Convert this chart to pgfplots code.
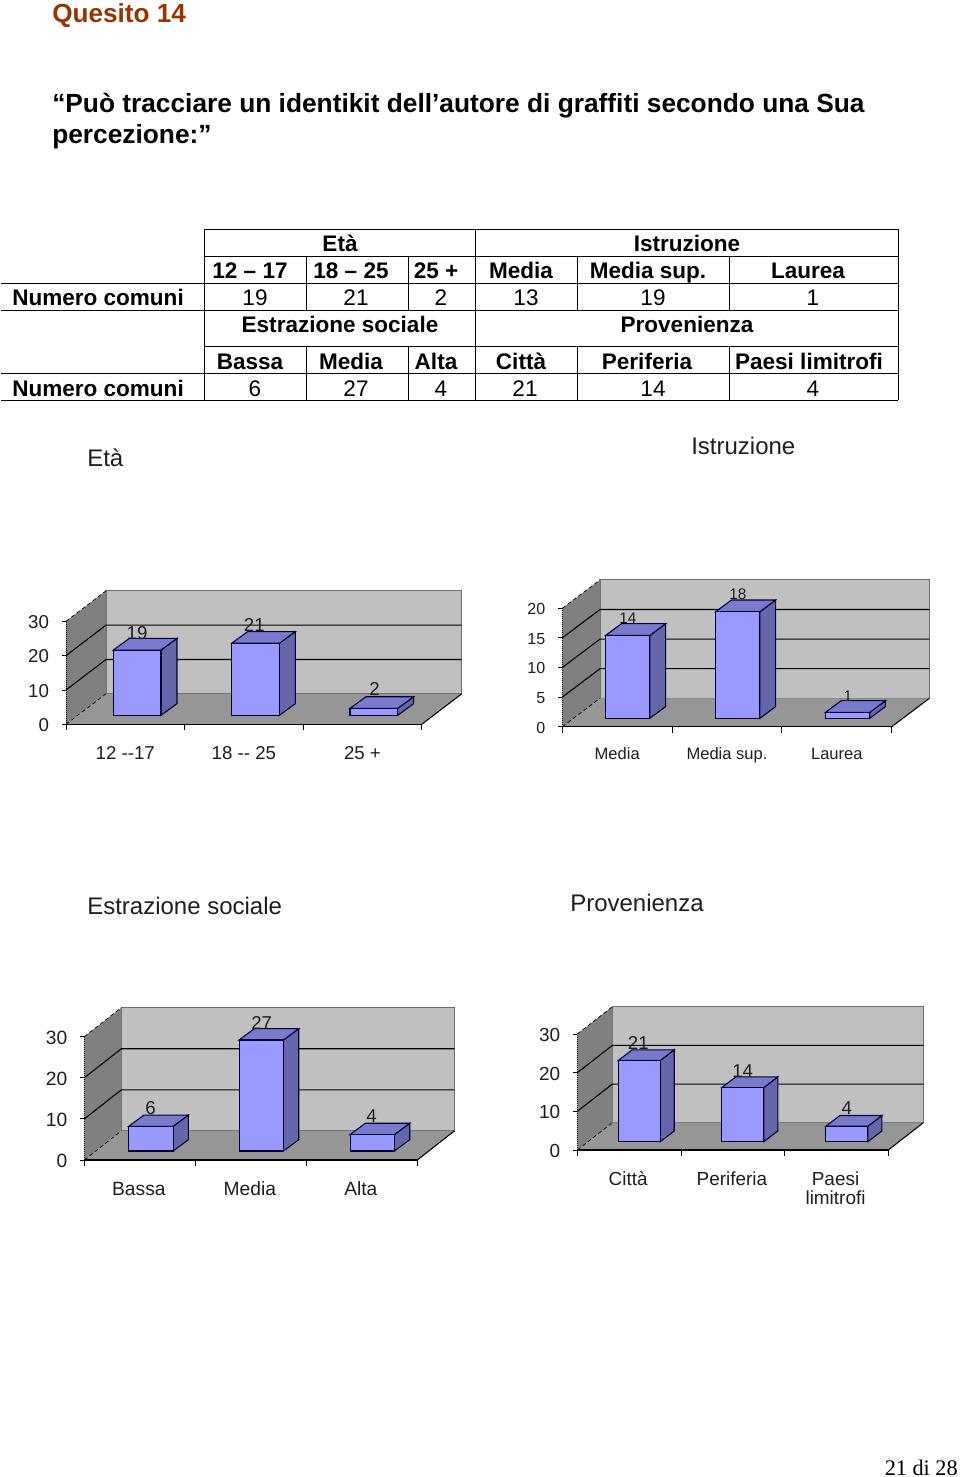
\documentclass[border=0pt]{standalone}
\usepackage{fontspec}
\setmainfont{Liberation Sans}
\newfontfamily\serifpage{Liberation Serif}
\usepackage{pgfplots}
\pgfplotsset{compat=1.18}
\definecolor{wallback}{HTML}{C0C0C0}
\definecolor{wallside}{HTML}{808080}
\definecolor{floorc}{HTML}{969696}
\definecolor{edgec}{HTML}{6E6E6E}
\definecolor{barfront}{HTML}{9999FF}
\definecolor{bartop}{HTML}{7A7ACC}
\definecolor{barside}{HTML}{6666AA}
\definecolor{barline}{HTML}{000033}
\definecolor{titlec}{HTML}{993300}
\definecolor{inkc}{HTML}{1E1E1E}
\newcommand\fs[1]{\fontsize{#1}{#1}\selectfont}
% geometry of the fake depth is set per chart: \dX \dY (walls), \bX \bY \bZ (bars)
\newcommand\tdframe{%
 \pgfmathsetmacro\tdxr{3+\dX}\pgfmathsetmacro\tdyt{\yM+\dY}%
 \addplot[fill=wallback,draw=edgec,line width=.8pt] coordinates {(\dX,\dY)(\tdxr,\dY)(\tdxr,\tdyt)(\dX,\tdyt)} -- cycle;%
 \addplot[fill=wallside,draw=none] coordinates {(0,0)(\dX,\dY)(\dX,\tdyt)(0,\yM)} -- cycle;%
 \addplot[fill=floorc,draw=none] coordinates {(0,0)(3,0)(\tdxr,\dY)(\dX,\dY)} -- cycle;%
 \addplot[black,line width=.5pt,densely dashed] coordinates {(0,0)(\dX,\dY)};%
 \addplot[black,line width=.5pt,densely dashed] coordinates {(0,\yM)(\dX,\tdyt)};%
 \addplot[black,line width=.8pt] coordinates {(3,0)(\tdxr,\dY)};%
}
\newcommand\tdgrid[1]{%
 \pgfmathsetmacro\tdxr{3+\dX}\pgfmathsetmacro\tdyg{#1+\dY}%
 \addplot[black,line width=.8pt] coordinates {(0,#1)(\dX,\tdyg)(\tdxr,\tdyg)};%
}
% \tdbar{left}{width}{value}
\newcommand\tdbar[3]{%
 \pgfmathsetmacro\tdr{#1+#2}\pgfmathsetmacro\tdt{\bZ+#3}%
 \pgfmathsetmacro\tdlb{#1+\bX}\pgfmathsetmacro\tdrb{#1+#2+\bX}%
 \pgfmathsetmacro\tdtb{\bZ+#3+\bY}\pgfmathsetmacro\tdzb{\bZ+\bY}%
 \addplot[fill=barside,draw=barline,line width=.8pt] coordinates {(\tdr,\bZ)(\tdrb,\tdzb)(\tdrb,\tdtb)(\tdr,\tdt)} -- cycle;%
 \addplot[fill=bartop,draw=barline,line width=.8pt] coordinates {(#1,\tdt)(\tdr,\tdt)(\tdrb,\tdtb)(\tdlb,\tdtb)} -- cycle;%
 \addplot[fill=barfront,draw=barline,line width=.8pt] coordinates {(#1,\bZ)(\tdr,\bZ)(\tdr,\tdt)(#1,\tdt)} -- cycle;%
}
\pgfplotsset{
  tdaxis/.style={
    scale only axis, clip=false, axis on top,
    xmin=0, xmax=3, ymin=0,
    axis lines*=left, x axis line style={-,line width=.8pt,black},
    y axis line style={-,line width=.5pt,black,densely dotted},
    xtick={0,1,2,3}, x tick label as interval,
    tick align=outside, major tick length=3pt,
    tick style={black,line width=.7pt},
    xtick style={/pgfplots/major tick length=4.5pt},
    xtick pos=bottom, ytick pos=left,
    /pgf/number format/assume math mode=true,
    anchor=south west,
    every axis plot/.append style={no markers},
    tick label style={text=inkc},
    xticklabel style={yshift=-9.5pt},
    yticklabel style={xshift=-6.3pt,yshift=-.6pt},
  },
  vallabel/.style={draw=none, nodes near coords, point meta=explicit symbolic,
    every node near coord/.style={anchor=center,inner sep=0pt,text=inkc,font=\fs{#1}}},
}
\begin{document}
\begin{tikzpicture}
\begin{scope}[x=0.75pt,y=-0.75pt]
\path[use as bounding box,fill=white] (0,0) rectangle (960,1477);
% headings
\node[anchor=base west,inner sep=0pt,text=titlec,font=\fs{19.6}\bfseries] at (52,23) {Quesito 14};
\node[anchor=base west,inner sep=0pt,font=\fs{19.72}\bfseries] at (52,113) {“Può tracciare un identikit dell’autore di graffiti secondo una Sua};
\node[anchor=base west,inner sep=0pt,font=\fs{19.72}\bfseries] at (52,143.5) {percezione:”};
% table rules
\foreach \y in {229.3,256.3,346.3} \draw[line width=.7pt] (204,\y) -- (898,\y);
\foreach \y in {283.3,310,373.3,400} \draw[line width=.7pt] (1,\y) -- (898,\y);
\foreach \x in {204,475,898} \draw[line width=.7pt] (\x,229.3) -- (\x,400);
\foreach \x in {306,408,577,729} {\draw[line width=.7pt] (\x,256.3) -- (\x,310); \draw[line width=.7pt] (\x,346.3) -- (\x,400);}
% table text
\tikzset{tb/.style={anchor=base,inner sep=0pt,font=\fs{16.9}\bfseries},tn/.style={anchor=base,inner sep=0pt,font=\fs{16.9}}}
\node[tb] at (340,251) {Età}; \node[tb] at (687,251) {Istruzione};
\node[tb] at (250,278) {12 – 17}; \node[tb] at (351,278) {18 – 25}; \node[tb] at (436,278) {25 +};
\node[tb] at (521,278) {Media}; \node[tb] at (648,278) {Media sup.}; \node[tb] at (808,278) {Laurea};
\node[tb,anchor=base west] at (12,305) {Numero comuni};
\node[tn] at (255,305) {19}; \node[tn] at (356,305) {21}; \node[tn] at (441,305) {2};
\node[tn] at (526,305) {13}; \node[tn] at (653,305) {19}; \node[tn] at (813,305) {1};
\node[tb] at (340,332) {Estrazione sociale}; \node[tb] at (687,332) {Provenienza};
\node[tb] at (250,369) {Bassa}; \node[tb] at (351,369) {Media}; \node[tb] at (436,369) {Alta};
\node[tb] at (521,369) {Città}; \node[tb] at (647,369) {Periferia}; \node[tb] at (809,369) {Paesi limitrofi};
\node[tb,anchor=base west] at (12,396) {Numero comuni};
\node[tn] at (255,396) {6}; \node[tn] at (356,396) {27}; \node[tn] at (441,396) {4};
\node[tn] at (525,396) {21}; \node[tn] at (653,396) {14}; \node[tn] at (813,396) {4};
% chart titles and page number
\tikzset{ct/.style={anchor=base west,inner sep=0pt,text=inkc,font=\fs{18}}}
\node[ct] at (87,466) {Età};
\node[ct] at (691,454) {Istruzione};
\node[ct] at (87,914) {Estrazione sociale};
\node[ct] at (570,911) {Provenienza};
\node[anchor=base east,inner sep=0pt,font=\serifpage\fs{16.7}] at (958,1475) {21 di 28};
\end{scope}

% ---- Età
\def\dX{.3374}\def\dY{8.88}\def\bX{.135}\def\bY{3.4}\def\bZ{2.62}\def\yM{30}
\begin{axis}[tdaxis, at={(66*0.75pt,-724.3*0.75pt)}, width=266.8pt, height=77.25pt,
  ymax=30, ytick={0,10,20,30},
  xticklabels={12 -{}-17,18 -{}- 25,25 +},
  tick label style={font=\fs{14}},
  xticklabel style={text height=10pt,text depth=0pt,yshift=-.5pt}]
\tdframe
\tdgrid{10}\tdgrid{20}
\addplot[vallabel=14] coordinates {(.599,26.7)[19] (1.588,28.9)[21] (2.603,10.3)[2]};
\tdbar{.399}{.402}{19}\tdbar{1.398}{.402}{21}\tdbar{2.395}{.402}{2}
\end{axis}

% ---- Istruzione
\def\dX{.3434}\def\dY{4.80}\def\bX{.143}\def\bY{1.98}\def\bZ{1.42}\def\yM{20}
\begin{axis}[tdaxis, at={(562.3*0.75pt,-726.7*0.75pt)}, width=247.05pt, height=88.8pt,
  ymax=20, ytick={0,5,10,15,20},
  xticklabels={Media,Media sup.,Laurea},
  xticklabel style={font=\fs{12.4},text height=9pt,text depth=0pt,yshift=.5pt}, yticklabel style={font=\fs{12}}]
\tdframe
\tdgrid{5}\tdgrid{10}\tdgrid{15}
\addplot[vallabel=11.5] coordinates {(.598,18.36)[14] (1.6,22.4)[18] (2.602,5.19)[1]};
\tdbar{.395}{.403}{14}\tdbar{1.397}{.403}{18}\tdbar{2.397}{.403}{1}
\end{axis}

% ---- Estrazione sociale
\def\dX{.333}\def\dY{7.06}\def\bX{.138}\def\bY{2.75}\def\bZ{2.19}\def\yM{30}
\begin{axis}[tdaxis, at={(84.3*0.75pt,-1160*0.75pt)}, width=249.75pt, height=92.5pt,
  ymax=30, ytick={0,10,20,30},
  xticklabels={Bassa,Media,Alta},
  ticklabel style={font=\fs{14.4}},
  xticklabel style={text height=10.4pt,text depth=0pt,xshift=-.7pt}]
\tdframe
\tdgrid{10}\tdgrid{20}
\addplot[vallabel=14] coordinates {(.598,12.65)[6] (1.598,33.4)[27] (2.589,10.7)[4]};
\tdbar{.4}{.4}{6}\tdbar{1.394}{.4}{27}\tdbar{2.394}{.4}{4}
\end{axis}

% ---- Provenienza
\def\dX{.338}\def\dY{7.06}\def\bX{.135}\def\bY{2.77}\def\bZ{2.15}\def\yM{30}
\begin{axis}[tdaxis, at={(577.3*0.75pt,-1150*0.75pt)}, width=233.25pt, height=87pt,
  ymax=30, ytick={0,10,20,30},
  xticklabels={Città,Periferia,{Paesi\\limitrofi}},
  ticklabel style={font=\fs{14.2},align=center},
  xticklabel style={xshift=-.7pt}]
\tdframe
\tdgrid{10}\tdgrid{20}
\addplot[vallabel=14] coordinates {(.588,27.75)[21] (1.595,20.5)[14] (2.599,10.94)[4]};
\tdbar{.395}{.405}{21}\tdbar{1.394}{.405}{14}\tdbar{2.398}{.405}{4}
\end{axis}
\end{tikzpicture}
\end{document}
